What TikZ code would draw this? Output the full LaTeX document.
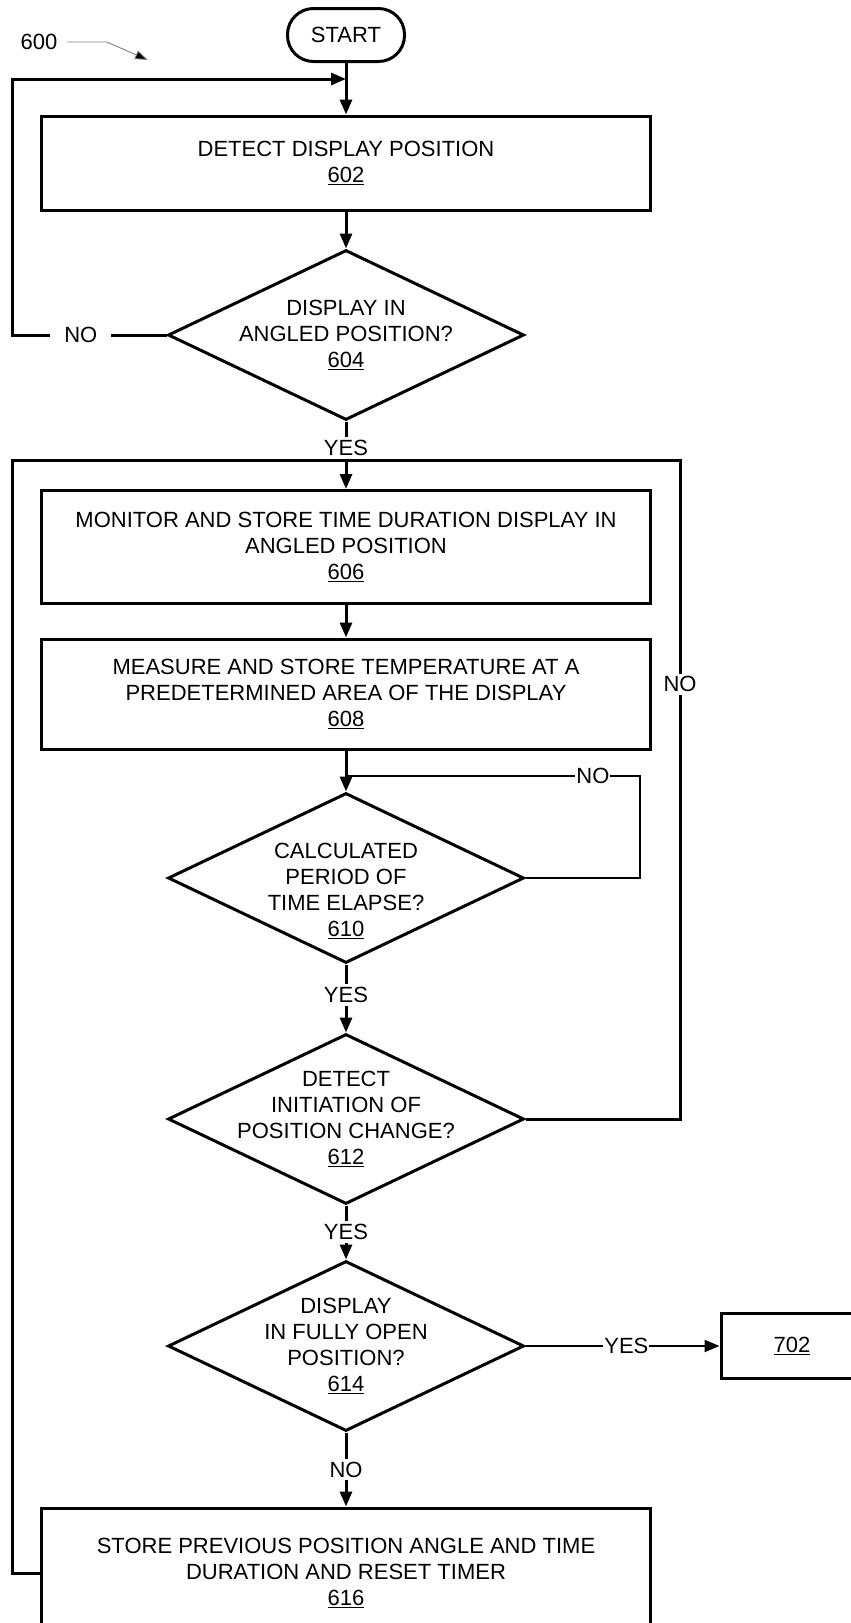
\documentclass[tikz,border=0pt]{standalone}
\usepackage{fontspec}
\setmainfont{Liberation Sans}
\usetikzlibrary{arrows.meta, positioning, shapes.geometric}

\begin{document}
\begin{tikzpicture}[x=1pt,y=-1pt,>={Triangle[length=15pt,width=12pt]},on grid,
    every node/.style={font=\fontsize{22}{26}\selectfont},
    stepbox/.style={draw,line width=3pt,minimum width=609pt,align=center,inner sep=0pt},
    decision/.style={draw,diamond,line width=3pt,aspect=2.1,minimum width=356pt,minimum height=170pt,inner sep=0pt},
    dtext/.style={label={[align=center]center:#1}},
    startbox/.style={draw,line width=3pt,rounded corners=26pt,minimum width=117pt,minimum height=53pt},
    flow/.style={->,line width=3pt},
    thinline/.style={line width=2pt},
    lbl/.style={fill=white,inner sep=3pt}]
    \path[use as bounding box,clip] (0,0) rectangle (851,1623);

    \node[startbox] (start) at (346,35) {START};
    \node[stepbox,minimum height=94pt] (b602) [below=128pt of start] {DETECT DISPLAY POSITION\\\underline{602}};
    \node[decision,dtext={DISPLAY IN\\ANGLED POSITION?\\\underline{604}}] (d604) [below=172pt of b602] {};
    \node[stepbox,minimum height=113pt] (b606) [below=212pt of d604] {MONITOR AND STORE TIME DURATION DISPLAY IN\\ANGLED POSITION\\\underline{606}};
    \node[stepbox,minimum height=110pt] (b608) [below=147pt of b606] {MEASURE AND STORE TEMPERATURE AT A\\PREDETERMINED AREA OF THE DISPLAY\\\underline{608}};
    \node[decision,label={[align=center,yshift=-13pt]center:CALCULATED\\PERIOD OF\\TIME ELAPSE?\\\underline{610}}] (d610) [below=184pt of b608] {};
    \node[decision,dtext={DETECT\\INITIATION OF\\POSITION CHANGE?\\\underline{612}}] (d612) [below=241pt of d610] {};
    \node[decision,dtext={DISPLAY\\IN FULLY OPEN\\POSITION?\\\underline{614}}] (d614) [below=227pt of d612] {};
    \node[stepbox,minimum height=130pt] (b616) [below=227pt of d614] {STORE PREVIOUS POSITION ANGLE AND TIME\\DURATION AND RESET TIMER\\\underline{616}};
    \node[draw,line width=3pt,minimum width=142pt,minimum height=65pt] (b702) [right=446pt of d614] {\underline{702}};

    % label of the figure
    \node (n600) at (39,42) {600};
    \coordinate (t600) at (148,60);
    \draw[gray,line width=0.9pt,-{Triangle[length=13pt,width=9pt,fill=black]}] ([xshift=6pt]n600.east) -- ++(40,0) -- (t600);

    % joints and side rails
    \coordinate[below=44pt of start] (j602);
    \coordinate[above=86.5pt of b606] (j606);
    \coordinate[above=102pt of d610] (j610);
    \coordinate (lft) at (12,0);
    \coordinate (rgt) at (680,0);
    \coordinate (r610) at (640,0);

    \draw[flow] (start) -- (b602);
    \draw[flow] (d604.west) -- node[lbl,pos=0.555,inner xsep=14pt] {NO} (d604.west -| lft) |- (j602);
    \draw[flow] (b602) -- (d604);
    \draw[flow] (d604) -- node[lbl,pos=0.39] {YES} (b606);
    \draw[line width=3pt] (b616.west) -| (lft |- j606) -- (rgt |- j606) -- node[lbl,pos=0.34] {NO} (rgt |- d612.east) -- (d612.east);
    \draw[flow] (b606) -- (b608);
    \draw[flow] (b608) -- (d610);
    \draw[thinline] (d610.east) -- (d610.east -| r610) |- node[lbl,pos=0.58,inner sep=1pt] {NO} (j610);
    \draw[flow] (d610) -- node[lbl,pos=0.45] {YES} (d612);
    \draw[flow] (d612) -- node[lbl,pos=0.49] {YES} (d614);
    \draw[flow,thinline] (d614.east) -- node[lbl,pos=0.52,inner sep=1pt] {YES} (b702.west);
    \draw[flow] (d614) -- node[lbl,pos=0.5] {NO} (b616);
\end{tikzpicture}
\end{document}
